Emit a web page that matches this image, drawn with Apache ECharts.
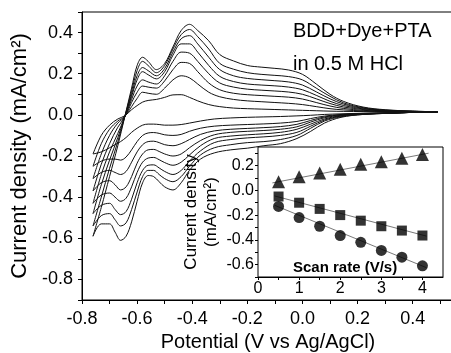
<!DOCTYPE html>
<html>
<head>
<meta charset="utf-8">
<script src="https://cdn.jsdelivr.net/npm/echarts@6/dist/echarts.min.js"></script>
<style>body{margin:0;background:#fff;} #main{width:451px;height:353px;}</style>
</head>
<body>
<div id="main"></div>
<script type="text/javascript">

// potentials (V vs Ag/AgCl) of the forward (anodic) and reverse (cathodic) scan
var potAnodic = [-0.76, -0.73, -0.70, -0.67, -0.645, -0.62, -0.60, -0.58, -0.56, -0.53, -0.50, -0.47, -0.44, -0.41, -0.38, -0.34, -0.30, -0.25, -0.20, -0.15, -0.10, -0.05, 0.00, 0.05, 0.10, 0.15, 0.22, 0.30, 0.40, 0.49];
var potCathodic = [-0.76, -0.73, -0.70, -0.68, -0.66, -0.64, -0.62, -0.60, -0.58, -0.56, -0.54, -0.52, -0.50, -0.47, -0.44, -0.41, -0.37, -0.32, -0.26, -0.20, -0.14, -0.08, -0.02, 0.03, 0.08, 0.14, 0.22, 0.32, 0.40, 0.49];

// scan rates (V/s), one CV loop each
var scanRates = [0.5, 1, 1.5, 2, 2.5, 3, 3.5, 4];

// current density (mA/cm2), forward scan
var anodic = [
    [-0.19, -0.10, -0.05, -0.02, -0.005, 0.025, 0.045, 0.062, 0.07, 0.075, 0.085, 0.097, 0.098, 0.085, 0.068, 0.05, 0.04, 0.033, 0.03, 0.028, 0.026, 0.024, 0.022, 0.02, 0.018, 0.017, 0.016, 0.015, 0.015, 0.014],
    [-0.25, -0.14, -0.07, -0.03, -0.008, 0.04, 0.08, 0.11, 0.105, 0.10, 0.13, 0.17, 0.19, 0.18, 0.15, 0.11, 0.088, 0.075, 0.068, 0.064, 0.06, 0.056, 0.05, 0.04, 0.03, 0.024, 0.019, 0.016, 0.015, 0.014],
    [-0.31, -0.19, -0.10, -0.04, -0.01, 0.06, 0.11, 0.14, 0.135, 0.13, 0.165, 0.22, 0.255, 0.25, 0.21, 0.155, 0.122, 0.105, 0.098, 0.094, 0.09, 0.086, 0.077, 0.06, 0.043, 0.031, 0.022, 0.018, 0.016, 0.015],
    [-0.37, -0.24, -0.14, -0.06, -0.01, 0.075, 0.14, 0.17, 0.16, 0.15, 0.19, 0.26, 0.305, 0.30, 0.26, 0.20, 0.155, 0.135, 0.125, 0.12, 0.116, 0.111, 0.10, 0.078, 0.055, 0.038, 0.026, 0.019, 0.016, 0.015],
    [-0.43, -0.29, -0.18, -0.09, -0.01, 0.09, 0.17, 0.21, 0.195, 0.175, 0.21, 0.29, 0.345, 0.345, 0.305, 0.24, 0.187, 0.162, 0.15, 0.145, 0.141, 0.135, 0.122, 0.095, 0.066, 0.045, 0.029, 0.021, 0.017, 0.015],
    [-0.48, -0.34, -0.22, -0.11, -0.01, 0.10, 0.19, 0.23, 0.215, 0.19, 0.225, 0.305, 0.37, 0.385, 0.345, 0.28, 0.22, 0.19, 0.177, 0.171, 0.166, 0.16, 0.145, 0.112, 0.078, 0.052, 0.032, 0.022, 0.017, 0.015],
    [-0.54, -0.40, -0.26, -0.13, -0.01, 0.115, 0.215, 0.26, 0.24, 0.205, 0.24, 0.32, 0.39, 0.415, 0.38, 0.32, 0.25, 0.222, 0.205, 0.197, 0.192, 0.186, 0.17, 0.13, 0.09, 0.058, 0.035, 0.023, 0.018, 0.015],
    [-0.59, -0.45, -0.30, -0.15, -0.01, 0.13, 0.24, 0.28, 0.26, 0.22, 0.25, 0.33, 0.41, 0.44, 0.41, 0.36, 0.293, 0.262, 0.24, 0.232, 0.226, 0.218, 0.197, 0.15, 0.10, 0.065, 0.038, 0.025, 0.018, 0.015]
];

// current density (mA/cm2), reverse scan
var cathodic = [
    [-0.19, -0.18, -0.16, -0.145, -0.13, -0.11, -0.085, -0.065, -0.05, -0.045, -0.045, -0.047, -0.05, -0.05, -0.047, -0.04, -0.03, -0.02, -0.015, -0.012, -0.01, -0.008, -0.005, -0.002, 0.002, 0.005, 0.008, 0.01, 0.012, 0.014],
    [-0.25, -0.225, -0.215, -0.215, -0.22, -0.205, -0.17, -0.13, -0.10, -0.088, -0.086, -0.09, -0.097, -0.10, -0.095, -0.08, -0.065, -0.055, -0.05, -0.047, -0.044, -0.04, -0.032, -0.018, -0.006, 0.002, 0.007, 0.01, 0.012, 0.014],
    [-0.31, -0.28, -0.27, -0.28, -0.29, -0.275, -0.23, -0.18, -0.145, -0.13, -0.128, -0.135, -0.145, -0.15, -0.14, -0.12, -0.095, -0.078, -0.07, -0.066, -0.062, -0.057, -0.046, -0.027, -0.01, 0.0, 0.006, 0.009, 0.012, 0.014],
    [-0.37, -0.33, -0.32, -0.34, -0.365, -0.35, -0.30, -0.235, -0.19, -0.17, -0.168, -0.178, -0.19, -0.20, -0.19, -0.16, -0.125, -0.097, -0.085, -0.08, -0.076, -0.07, -0.058, -0.035, -0.014, -0.002, 0.005, 0.009, 0.012, 0.014],
    [-0.43, -0.39, -0.38, -0.40, -0.42, -0.405, -0.35, -0.28, -0.23, -0.21, -0.207, -0.218, -0.232, -0.245, -0.23, -0.195, -0.15, -0.115, -0.103, -0.097, -0.092, -0.085, -0.07, -0.045, -0.02, -0.004, 0.004, 0.009, 0.012, 0.014],
    [-0.48, -0.44, -0.43, -0.46, -0.485, -0.47, -0.41, -0.33, -0.27, -0.245, -0.243, -0.258, -0.275, -0.29, -0.27, -0.225, -0.175, -0.135, -0.12, -0.112, -0.107, -0.10, -0.085, -0.055, -0.025, -0.006, 0.003, 0.008, 0.012, 0.014],
    [-0.54, -0.49, -0.48, -0.51, -0.54, -0.525, -0.46, -0.375, -0.30, -0.27, -0.27, -0.29, -0.31, -0.325, -0.30, -0.25, -0.195, -0.16, -0.145, -0.135, -0.13, -0.12, -0.10, -0.065, -0.03, -0.009, 0.002, 0.008, 0.012, 0.014],
    [-0.59, -0.53, -0.53, -0.57, -0.61, -0.59, -0.52, -0.42, -0.33, -0.295, -0.30, -0.325, -0.35, -0.365, -0.33, -0.27, -0.215, -0.185, -0.17, -0.162, -0.15, -0.14, -0.115, -0.08, -0.04, -0.012, 0.002, 0.008, 0.012, 0.015]
];

// inset: peak current density vs scan rate
var peakAnodic = [0.07, 0.11, 0.14, 0.17, 0.21, 0.23, 0.26, 0.29];
var peakCath1 = [-0.05, -0.10, -0.15, -0.20, -0.245, -0.29, -0.325, -0.365];
var peakCath2 = [-0.13, -0.22, -0.29, -0.365, -0.42, -0.485, -0.54, -0.61];
// fitted lines (end points)
var fitAnodic = [[0.35, 0.06], [4.15, 0.30]];
var fitCath1 = [[0.4, -0.045], [4.1, -0.37]];
var fitCath2 = [[0.4, -0.12], [4.1, -0.625]];

var FONT = 'Liberation Sans';

// every 0.2 gets a label, 0.1 only a tick
function evenLabel(v) {
    var n = Math.round(v * 10);
    return (n % 2 === 0) ? v.toFixed(1) : '';
}

var myChart = echarts.init(document.getElementById('main'));

var series = [];
for (var k = 0; k < scanRates.length; k++) {
    var fw = [], rv = [];
    for (var i = 0; i < potAnodic.length; i++) fw.push([potAnodic[i], anodic[k][i]]);
    for (var j = 0; j < potCathodic.length; j++) rv.push([potCathodic[j], cathodic[k][j]]);
    [fw, rv].forEach(function (d) {
        series.push({
            type: 'line', xAxisIndex: 0, yAxisIndex: 0, data: d,
            smooth: 0.35, showSymbol: false, silent: true,
            lineStyle: { color: '#111', width: 1 }
        });
    });
}

function pairs(ys) {
    return scanRates.map(function (s, i) { return [s, ys[i]]; });
}
[fitAnodic, fitCath1, fitCath2].forEach(function (f) {
    series.push({
        type: 'line', xAxisIndex: 1, yAxisIndex: 1, data: f, showSymbol: false, silent: true,
        lineStyle: { color: '#555', width: 0.8 }, z: 3
    });
});
series.push({ type: 'scatter', xAxisIndex: 1, yAxisIndex: 1, data: pairs(peakAnodic), symbol: 'triangle', symbolSize: 13, itemStyle: { color: '#000' }, z: 4 });
series.push({ type: 'scatter', xAxisIndex: 1, yAxisIndex: 1, data: pairs(peakCath1), symbol: 'rect', symbolSize: 10, itemStyle: { color: '#000' }, z: 4 });
series.push({ type: 'scatter', xAxisIndex: 1, yAxisIndex: 1, data: pairs(peakCath2), symbol: 'circle', symbolSize: 11, itemStyle: { color: '#000' }, z: 4 });

var option = {
    animation: false,
    backgroundColor: '#fff',
    textStyle: { fontFamily: FONT },
    title: [
        { text: 'BDD+Dye+PTA', left: 293, top: 21, padding: 0, textStyle: { fontFamily: FONT, fontSize: 20, fontWeight: 'normal', color: '#000' } },
        { text: 'in 0.5 M HCl', left: 293, top: 54, padding: 0, textStyle: { fontFamily: FONT, fontSize: 20, fontWeight: 'normal', color: '#000' } },
        { text: 'Scan rate (V/s)', left: 293, top: 260, padding: 0, textStyle: { fontFamily: FONT, fontSize: 15, fontWeight: 'bold', color: '#000' } }
    ],
    grid: [
        { left: 82, top: 12, width: 372, height: 288, show: true, borderColor: '#000', borderWidth: 1, outerBoundsMode: 'none' },
        { left: 258, top: 147, width: 185, height: 130, show: true, borderColor: '#000', borderWidth: 1, backgroundColor: '#fff', outerBoundsMode: 'none', z: 3 }
    ],
    xAxis: [
        {
            type: 'value', gridIndex: 0, min: -0.8, max: 0.55, interval: 0.1,
            name: 'Potential (V vs Ag/AgCl)', nameLocation: 'middle', nameGap: 32,
            nameTextStyle: { fontFamily: FONT, fontSize: 20, color: '#000' },
            axisLine: { onZero: false, lineStyle: { color: '#000', width: 1 } },
            axisTick: { length: 4, lineStyle: { color: '#000' } },
            axisLabel: { formatter: evenLabel, showMaxLabel: false, margin: 10, fontFamily: FONT, fontSize: 18, color: '#000' },
            splitLine: { show: false }
        },
        {
            type: 'value', gridIndex: 1, min: 0, max: 4.5, interval: 0.5,
            axisLine: { onZero: false, lineStyle: { color: '#000', width: 1 } },
            axisTick: { length: 3, lineStyle: { color: '#000' } },
            axisLabel: {
                formatter: function (v) { return (Math.abs(v - Math.round(v)) < 1e-6) ? String(Math.round(v)) : ''; },
                showMaxLabel: false, margin: 4, fontFamily: FONT, fontSize: 16, color: '#000'
            },
            splitLine: { show: false }
        }
    ],
    yAxis: [
        {
            type: 'value', gridIndex: 0, min: -0.9, max: 0.5, interval: 0.1,
            name: 'Current density (mA/cm\u00b2)', nameLocation: 'middle', nameGap: 46,
            nameTextStyle: { fontFamily: FONT, fontSize: 22, color: '#000' },
            axisLine: { show: true, onZero: false, lineStyle: { color: '#000', width: 1 } },
            axisTick: { show: true, length: 4, lineStyle: { color: '#000' } },
            axisLabel: { formatter: evenLabel, margin: 9, fontFamily: FONT, fontSize: 18, color: '#000' },
            splitLine: { show: false }
        },
        {
            type: 'value', gridIndex: 1, min: -0.7, max: 0.35, interval: 0.1,
            name: 'Current density\n(mA/cm\u00b2)', nameLocation: 'middle', nameGap: 37,
            nameTextStyle: { fontFamily: FONT, fontSize: 17, lineHeight: 20, color: '#000' },
            axisLine: { show: true, onZero: false, lineStyle: { color: '#000', width: 1 } },
            axisTick: { show: true, length: 3, lineStyle: { color: '#000' } },
            axisLabel: { formatter: evenLabel, showMaxLabel: false, margin: 4, fontFamily: FONT, fontSize: 16, color: '#000' },
            splitLine: { show: false }
        }
    ],
    series: series
};

myChart.setOption(option);
</script>
</body>
</html>
